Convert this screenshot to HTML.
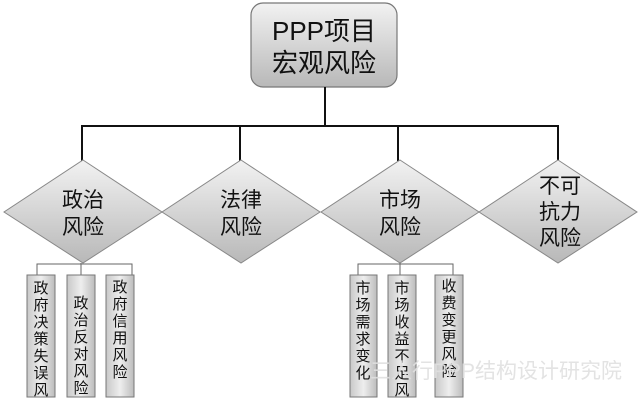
<!DOCTYPE html>
<html><head><meta charset="utf-8"><style>
body{margin:0;background:#fff;width:640px;height:403px;overflow:hidden}
text{font-family:"Liberation Sans","Noto Sans CJK SC",sans-serif;fill:#111}
</style></head><body>
<svg width="640" height="403" viewBox="0 0 640 403" xmlns="http://www.w3.org/2000/svg">
<defs>
<linearGradient id="g" x1="0" y1="0" x2="0" y2="1"><stop offset="0" stop-color="#f2f2f2"/><stop offset="1" stop-color="#b8b8b8"/></linearGradient>
<linearGradient id="gh" x1="0" y1="0" x2="1" y2="0"><stop offset="0" stop-color="#c8c8c8"/><stop offset="0.5" stop-color="#eeeeee"/><stop offset="1" stop-color="#bcbcbc"/></linearGradient>
</defs>
<rect x="251" y="3" width="146" height="84" rx="12" fill="url(#g)" stroke="#777" stroke-width="1.2"/>
<text x="324" y="40" font-size="26" text-anchor="middle">PPP项目</text>
<text x="324" y="72" font-size="26" text-anchor="middle">宏观风险</text>
<g stroke="#111" stroke-width="2" fill="none">
<line x1="325" y1="87" x2="325" y2="126"/>
<line x1="81" y1="126" x2="559" y2="126"/>
<line x1="82" y1="126" x2="82" y2="161"/>
<line x1="240" y1="126" x2="240" y2="161"/>
<line x1="398" y1="126" x2="398" y2="161"/>
<line x1="558" y1="126" x2="558" y2="161"/>
</g>
<g fill="url(#g)" stroke="#888" stroke-width="1">
<polygon points="83,160 162,212 83,263 4,212"/>
<polygon points="241,160 320,212 241,263 162,212"/>
<polygon points="400,160 479,212 400,263 321,212"/>
<polygon points="558,160 637,212 558,263 479,212"/>
</g>
<g font-size="21" text-anchor="middle">
<text x="83" y="207">政治</text><text x="83" y="234">风险</text>
<text x="241" y="207">法律</text><text x="241" y="234">风险</text>
<text x="400" y="207">市场</text><text x="400" y="234">风险</text>
<text x="560" y="193">不可</text><text x="560" y="219">抗力</text><text x="560" y="245">风险</text>
</g>
<g stroke="#666" stroke-width="1" fill="none">
<polyline points="37,275 37,264 132,264 132,275"/><line x1="81" y1="263" x2="81" y2="275"/>
<polyline points="358,275 358,264 453,264 453,275"/><line x1="400" y1="263" x2="400" y2="275"/>
</g>
<g fill="url(#gh)" stroke="#777" stroke-width="1">
<rect x="27" y="275" width="28" height="122"/>
<rect x="67" y="275" width="28" height="122"/>
<rect x="106" y="275" width="28" height="122"/>
<rect x="350" y="275" width="27" height="122"/>
<rect x="388" y="275" width="28" height="122"/>
<rect x="435" y="275" width="28" height="122"/>
</g>
<g font-size="15" text-anchor="middle">
<text x="41" y="293">政</text><text x="41" y="310">府</text><text x="41" y="327">决</text><text x="41" y="344">策</text><text x="41" y="361">失</text><text x="41" y="378">误</text><text x="41" y="395">风</text>
<text x="81" y="308">政</text><text x="81" y="325">治</text><text x="81" y="342">反</text><text x="81" y="359">对</text><text x="81" y="376">风</text><text x="81" y="393">险</text>
<text x="120" y="292">政</text><text x="120" y="309">府</text><text x="120" y="326">信</text><text x="120" y="343">用</text><text x="120" y="360">风</text><text x="120" y="377">险</text>
<text x="363" y="293">市</text><text x="363" y="310">场</text><text x="363" y="327">需</text><text x="363" y="344">求</text><text x="363" y="361">变</text><text x="363" y="378">化</text>
<text x="402" y="293">市</text><text x="402" y="310">场</text><text x="402" y="327">收</text><text x="402" y="344">益</text><text x="402" y="361">不</text><text x="402" y="378">足</text><text x="402" y="395">风</text>
<text x="449" y="291">收</text><text x="449" y="308">费</text><text x="449" y="325">变</text><text x="449" y="342">更</text><text x="449" y="359">风</text><text x="449" y="376">险</text>
</g>
<text x="370" y="378" font-size="21" fill="#ddd" style="fill:#e0e0e0;opacity:0.9">三人行PPP结构设计研究院</text>
</svg>
</body></html>
